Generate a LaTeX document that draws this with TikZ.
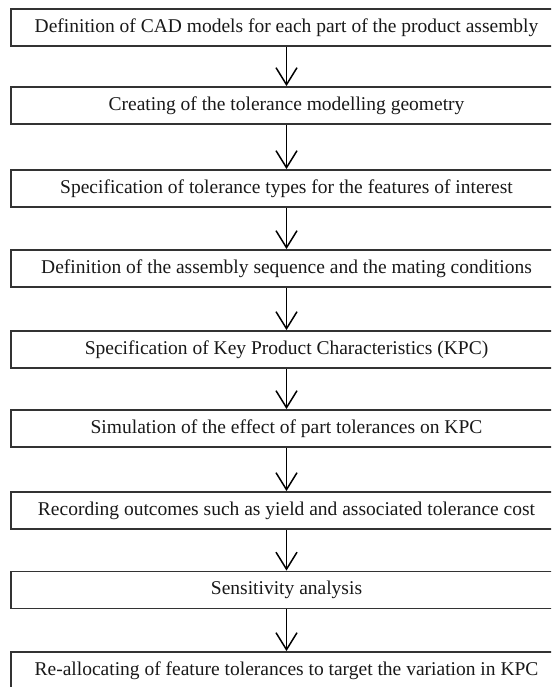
\documentclass[tikz,border=0pt]{standalone}
\usepackage{fontspec}
\setmainfont{Liberation Serif}
\usetikzlibrary{arrows.meta}
\begin{document}
\begin{tikzpicture}[x=1pt,y=-1pt,
  stagebox/.style={draw=black!80, line width=1.8pt, minimum width=551pt,
    minimum height=37pt, inner sep=0pt, text=black!90,
    font=\fontsize{19.5}{22}\selectfont},
  flow/.style={line width=1.5pt,
    -{Straight Barb[length=17pt,width=21pt,line width=1.5pt]}}]
\useasboundingbox (0,0) rectangle (551,687);
\clip (0,0) rectangle (551,687);
\fill[white] (0,0) rectangle (551,687);

% process stages, top to bottom
\node[stagebox] (s1) at (286.5,27.5)  {Definition of CAD models for each part of the product assembly};
\node[stagebox] (s2) at (286.5,105.5) {Creating of the tolerance modelling geometry};
\node[stagebox] (s3) at (286.5,188.5) {Specification of tolerance types for the features of interest};
\node[stagebox] (s4) at (286.5,268.5) {Definition of the assembly sequence and the mating conditions};
\node[stagebox] (s5) at (286.5,349.5) {Specification of Key Product Characteristics (KPC)};
\node[stagebox] (s6) at (286.5,428.5) {Simulation of the effect of part tolerances on KPC};
\node[stagebox] (s7) at (286.5,510.5) {Recording outcomes such as yield and associated tolerance cost};
\node[stagebox] (s8) at (286.5,590)   {Sensitivity analysis};
\node[stagebox] (s9) at (286.5,670.5) {Re-allocating of feature tolerances to target the variation in KPC};

% connectors between consecutive stages
\foreach \a/\b in {s1/s2,s2/s3,s3/s4,s4/s5,s5/s6,s6/s7,s7/s8,s8/s9}
  \draw[flow] (\a.south) -- (\b.north);
\end{tikzpicture}
\end{document}
